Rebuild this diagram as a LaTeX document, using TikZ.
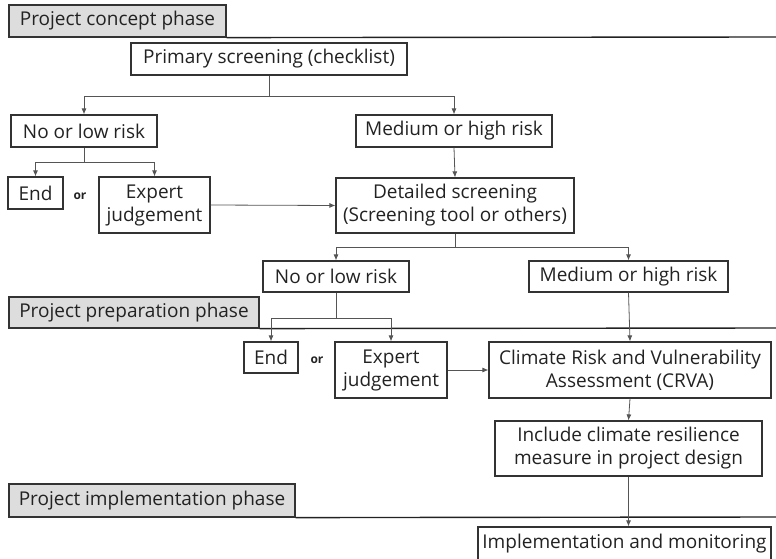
\documentclass[tikz,border=0pt]{standalone}
\usepackage{fontspec}
\setmainfont{Open Sans}
\usetikzlibrary{arrows.meta}
\begin{document}
\begin{tikzpicture}[x=1pt,y=-1pt,
  box/.style={draw=custcol_33, line width=1.2pt, inner sep=0, align=center,
    font=\fontsize{19pt}{23pt}\selectfont, text=custcol_22},
  phase/.style={box, fill=custcol_dd},
  wire/.style={draw=custcol_55, line width=0.8pt},
  arrow/.style={wire, -{Latex[length=6pt,width=5pt]}},
  phaseline/.style={draw=custcol_22, line width=1.4pt},
  orlabel/.style={font=\fontsize{12pt}{12pt}\bfseries\selectfont, text=custcol_22, inner sep=0}]
\definecolor{custcol_22}{RGB}{34, 34, 34}
\definecolor{custcol_33}{RGB}{51, 51, 51}
\definecolor{custcol_55}{RGB}{85, 85, 85}
\definecolor{custcol_dd}{RGB}{221, 221, 221}
\useasboundingbox (0,0) rectangle (776,559);
% phases
\node[phase, minimum width=217pt, minimum height=32pt] (phaseA) at (117.5,21) {Project concept phase};
\node[phase, minimum width=250pt, minimum height=31pt] (phaseB) at (134,312.5) {Project preparation phase};
\node[phase, minimum width=286pt, minimum height=33pt] (phaseC) at (152,500.5) {Project implementation phase};
\coordinate (edgeA) at (776,37);
\coordinate (edgeB) at (776,328);
\coordinate (edgeC) at (776,517);
\draw[phaseline] (phaseA.south east) -- (edgeA);
\draw[phaseline] (phaseB.south east) -- (edgeB);
\draw[phaseline] (phaseC.south east) -- (edgeC);
% concept phase
\node[box, minimum width=276pt, minimum height=32pt] (primary) at (269,59) {Primary screening (checklist)};
\node[box, minimum width=146pt, minimum height=32pt] (nolowA) at (84,131) {No or low risk};
\node[box, minimum width=196pt, minimum height=32pt] (medhighA) at (454,131) {Medium or high risk};
\node[box, minimum width=55pt, minimum height=32pt] (endA) at (35.5,193) {End};
\node[orlabel] (orA) at (80,196) {or};
\node[box, minimum width=111pt, minimum height=56pt] (expertA) at (154.5,205) {Expert\\judgement};
\node[box, minimum width=238pt, minimum height=55pt] (detailed) at (455,205.5) {Detailed screening\\(Screening tool or others)};
\node[box, minimum width=146pt, minimum height=31pt] (nolowB) at (336,276.5) {No or low risk};
\node[box, minimum width=199pt, minimum height=31pt] (medhighB) at (628.5,276.5) {Medium or high risk};
% preparation phase
\node[box, minimum width=54pt, minimum height=31pt] (endB) at (271,357.5) {End};
\node[orlabel] (orB) at (317,360) {or};
\node[box, minimum width=112pt, minimum height=56pt] (expertB) at (391,370) {Expert\\judgement};
\node[box, minimum width=282pt, minimum height=56pt] (crva) at (630,370) {Climate Risk and Vulnerability\\Assessment (CRVA)};
\node[box, minimum width=267pt, minimum height=55pt] (include) at (628.5,448.5) {Include climate resilience\\measure in project design};
% implementation phase
\node[box, minimum width=293pt, minimum height=33pt] (implement) at (624.5,543.5) {Implementation and monitoring};
% connectors
\coordinate (splitA) at (269,96);
\coordinate (splitB) at (84,162);
\coordinate (splitC) at (455,247);
\coordinate (splitD) at (336,318);
\draw[wire] (primary.south) -- (splitA);
\draw[arrow] (splitA) -| (nolowA.north);
\draw[arrow] (splitA) -| (medhighA.north);
\draw[wire] (nolowA.south) -- (splitB);
\draw[arrow] (splitB) -| (endA.north);
\draw[arrow] (splitB) -| (expertA.north);
\draw[arrow] (expertA.east) -- (detailed.west);
\draw[arrow] (medhighA.south) -- (detailed.north);
\draw[wire] (detailed.south) -- (splitC);
\draw[arrow] (splitC) -| (nolowB.north);
\draw[arrow] (splitC) -| (medhighB.north);
\draw[wire] (nolowB.south) -- (splitD);
\draw[arrow] (splitD) -| (endB.north);
\draw[arrow] (splitD) -| (expertB.north);
\draw[arrow] (expertB.east) -- (crva.west);
\draw[arrow] (medhighB.south) -- (crva.north);
\draw[arrow] (crva.south) -- (include.north);
\draw[arrow] (include.south) -- (include.south |- implement.north);
\end{tikzpicture}
\end{document}
